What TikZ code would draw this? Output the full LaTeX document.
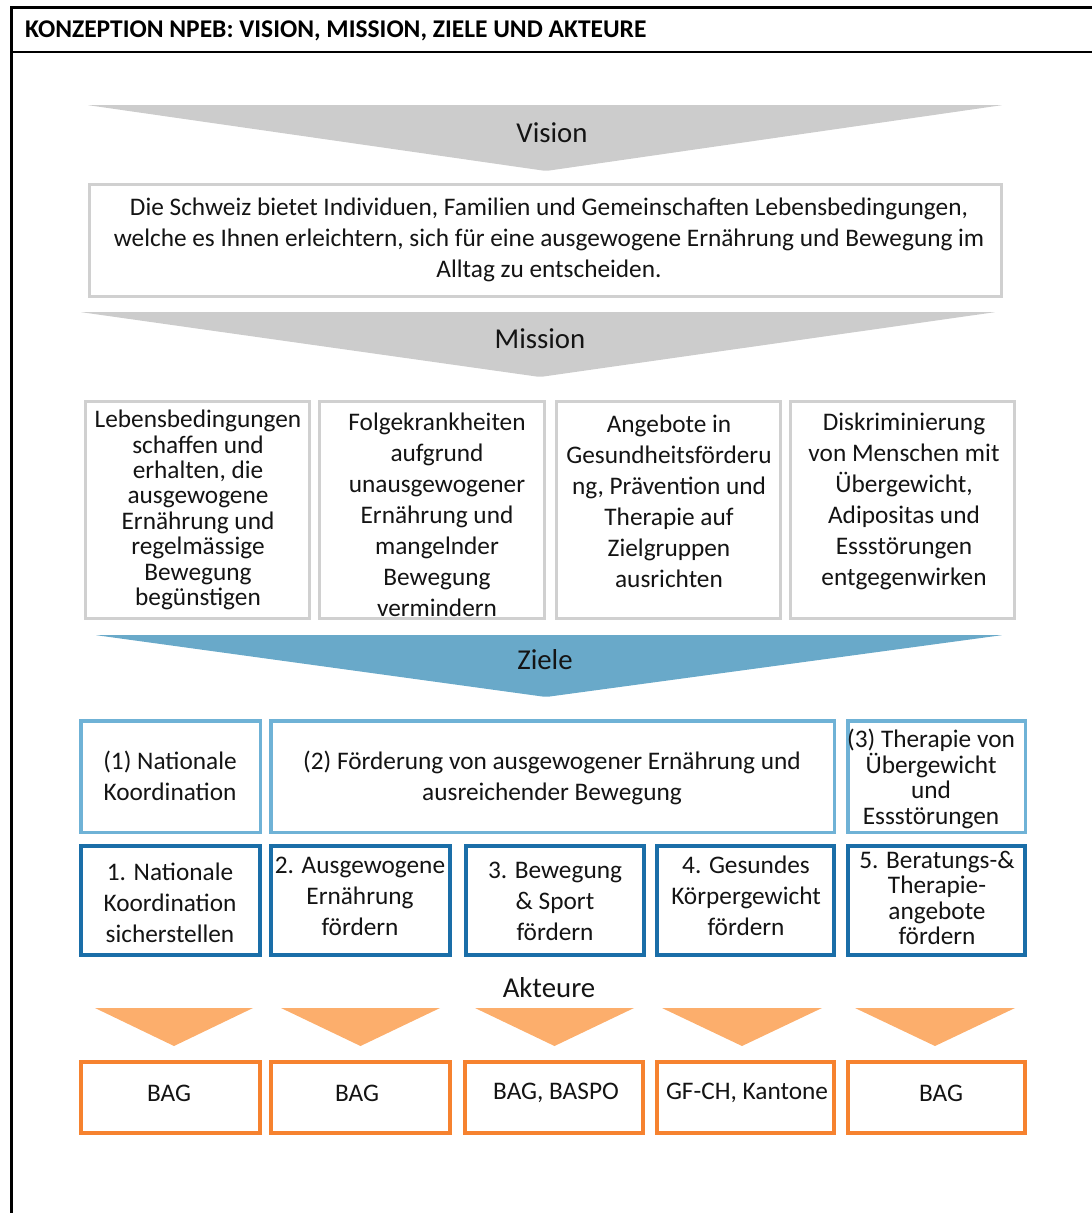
\documentclass[tikz,border=0pt]{standalone}
\usepackage{fontspec}
\setmainfont{Carlito}
\definecolor{tgray}{HTML}{CCCCCC}
\definecolor{bgray}{HTML}{D0D0D0}
\definecolor{zblue}{HTML}{69A9C9}
\definecolor{lblue}{HTML}{6FB2D6}
\definecolor{dblue}{HTML}{1A6EA8}
\definecolor{otri}{HTML}{FCAE6C}
\definecolor{obox}{HTML}{F6822F}
\tikzset{
  bx/.style={rectangle, inner sep=0pt, outer sep=0pt, fill=white},
  graybox/.style={bx, draw=bgray, line width=3pt},
  lbluebox/.style={bx, draw=lblue, line width=3.5pt},
  dbluebox/.style={bx, draw=dblue, line width=4pt},
  orangebox/.style={bx, draw=obox, line width=4pt},
  txt/.style={align=center, inner sep=0pt, text=black!92, font=\fontsize{25.3}{31}\selectfont},
  tighttxt/.style={align=center, inner sep=0pt, text=black!92, font=\fontsize{25.3}{25.4}\selectfont},
  lbl/.style={inner sep=0pt, text=black!92, font=\fontsize{28.8}{32}\selectfont},
}
\begin{document}
\begin{tikzpicture}[x=1pt,y=-1pt]
\useasboundingbox (0,0) rectangle (1092,1213);
% frame
\draw[line width=3pt] (11.5,1213) -- (11.5,7.5) -- (1092,7.5);
\draw[line width=1.5pt] (11.5,52) -- (1092,52);
\node[anchor=west, inner sep=0pt, font=\bfseries\fontsize{25.5}{28}\selectfont] (title) at (25,31) {KONZEPTION NPEB: VISION, MISSION, ZIELE UND AKTEURE};

% Vision
\fill[tgray, rounded corners=2pt] (87,105) -- (1003,105) -- (546,171) -- cycle;
\node[lbl] (vision) at (552,133) {Vision};
\node[graybox, minimum width=912pt, minimum height=112pt] (vbox) at (545.5,240.5) {};
\node[txt] (vtxt) at (549,240) {Die Schweiz bietet Individuen, Familien und Gemeinschaften Lebensbedingungen,\\welche es Ihnen erleichtern, sich für eine ausgewogene Ernährung und Bewegung im\\Alltag zu entscheiden.};

% Mission
\fill[tgray, rounded corners=2pt] (80,312) -- (996,312) -- (540,377) -- cycle;
\node[lbl] (mission) at (540,339) {Mission};
\node[graybox, minimum width=224pt, minimum height=217pt] (m1) at (197.5,510) {};
\node[graybox, minimum width=225pt, minimum height=217pt] (m2) at (432,510) {};
\node[graybox, minimum width=224pt, minimum height=217pt] (m3) at (668.5,510) {};
\node[graybox, minimum width=224pt, minimum height=217pt] (m4) at (902.5,510) {};
\node[tighttxt] (m1t) at (198,510) {Lebensbedingungen\\schaffen und\\erhalten, die\\ausgewogene\\Ernährung und\\regelmässige\\Bewegung\\begünstigen};
\node[txt] (m2t) at (437,515) {Folgekrankheiten\\aufgrund\\unausgewogener\\Ernährung und\\mangelnder\\Bewegung\\vermindern};
\node[txt] (m3t) at (669,501) {Angebote in\\Gesundheitsförderu\\ng, Prävention und\\Therapie auf\\Zielgruppen\\ausrichten};
\node[txt] (m4t) at (904,501) {Diskriminierung\\von Menschen mit\\Übergewicht,\\Adipositas und\\Essstörungen\\entgegenwirken};

% Ziele
\fill[zblue, rounded corners=2pt] (95,635) -- (1003,635) -- (546,697) -- cycle;
\node[lbl] (ziele) at (545,660) {Ziele};
\node[lbluebox, minimum width=179.5pt, minimum height=111.5pt] (z1) at (170.5,776.5) {};
\node[lbluebox, minimum width=563.5pt, minimum height=111.5pt] (z2) at (552.5,776.5) {};
\node[lbluebox, minimum width=177.5pt, minimum height=111.5pt] (z3) at (936.5,776.5) {};
\node[txt] (z1t) at (170,776) {(1) Nationale\\Koordination};
\node[txt] (z2t) at (552,777.5) {(2) Förderung von ausgewogener Ernährung und\\ausreichender Bewegung};
\node[tighttxt] (z3t) at (931,779) {(3) Therapie von\\Übergewicht\\und\\Essstörungen};

\node[dbluebox, minimum width=179pt, minimum height=109pt] (g1) at (170.5,900.5) {};
\node[dbluebox, minimum width=179pt, minimum height=109pt] (g2) at (360.5,900.5) {};
\node[dbluebox, minimum width=178pt, minimum height=109pt] (g3) at (555,900.5) {};
\node[dbluebox, minimum width=177pt, minimum height=109pt] (g4) at (745.5,900.5) {};
\node[dbluebox, minimum width=177pt, minimum height=109pt] (g5) at (936.5,900.5) {};
\node[txt] (g1t) at (170,902.5) {1. Nationale\\Koordination\\sicherstellen};
\node[txt] (g2t) at (360,896) {2. Ausgewogene\\Ernährung\\fördern};
\node[txt] (g3t) at (555,901) {3. Bewegung\\\& Sport\\fördern};
\node[txt] (g4t) at (746,895.5) {4. Gesundes\\Körpergewicht\\fördern};
\node[tighttxt] (g5t) at (937,898) {5. Beratungs-\&\\Therapie-\\angebote\\fördern};

% Akteure
\node[lbl] (akteure) at (549,988) {Akteure};
\fill[otri] (95,1008) -- (253,1008) -- (174,1046) -- cycle;
\fill[otri] (281,1008) -- (440,1008) -- (360.5,1046) -- cycle;
\fill[otri] (475,1008) -- (634,1008) -- (554.5,1046) -- cycle;
\fill[otri] (662,1008) -- (822,1008) -- (742,1046) -- cycle;
\fill[otri] (855,1008) -- (1015,1008) -- (935,1046) -- cycle;
\node[orangebox, minimum width=179pt, minimum height=71pt] (a1) at (170.5,1097.5) {};
\node[orangebox, minimum width=179pt, minimum height=71pt] (a2) at (360.5,1097.5) {};
\node[orangebox, minimum width=178pt, minimum height=71pt] (a3) at (554,1097.5) {};
\node[orangebox, minimum width=177pt, minimum height=71pt] (a4) at (745.5,1097.5) {};
\node[orangebox, minimum width=177pt, minimum height=71pt] (a5) at (936.5,1097.5) {};
\node[txt] (a1t) at (169,1093) {BAG};
\node[txt] (a2t) at (357,1093) {BAG};
\node[txt] (a3t) at (556,1093) {BAG, BASPO};
\node[txt] (a4t) at (747,1093) {GF-CH, Kantone};
\node[txt] (a5t) at (941,1093) {BAG};
\end{tikzpicture}
\end{document}
